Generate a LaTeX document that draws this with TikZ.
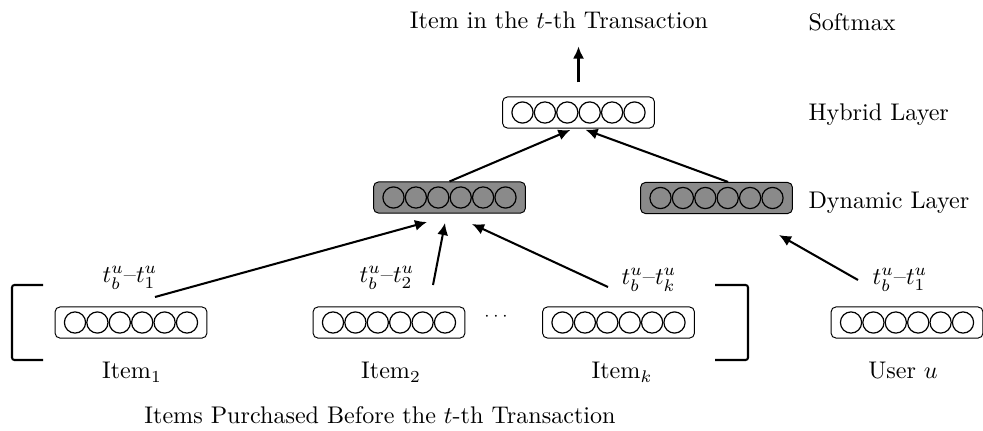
\documentclass[tikz,border=0pt]{standalone}
\usetikzlibrary{arrows.meta}

\definecolor{dyngray}{RGB}{138,138,138}

% six neurons inside an embedding box
\newcommand{\neurons}[1]{%
  \foreach \k in {0,...,5}
    \draw[cell] (#1) ++(\k*22.4-56,0) circle[radius=4.4pt];
}

\begin{document}
\begin{tikzpicture}[x=0.415pt, y=-0.415pt,
  vecbox/.style={rectangle, rounded corners=2pt, draw, line width=0.4pt,
                 minimum width=63pt, minimum height=12.9pt, inner sep=0pt},
  cell/.style={line width=0.5pt},
  arrow/.style={-{Latex[length=5pt, width=4.6pt]}, line width=0.85pt},
  bracket/.style={line width=0.85pt, rounded corners=1pt},
  layer/.style={anchor=west}
]
  \useasboundingbox (0,0) rectangle (983,430);

  % embedding vectors
  \node[vecbox] (it1) at (131,322.5) {};
  \node[vecbox] (it2) at (389,322.5) {};
  \node[vecbox] (itk) at (618.5,322.5) {};
  \node[vecbox] (usr) at (907,322.5) {};
  \node[vecbox, fill=dyngray] (dynL) at (449.5,197.5) {};
  \node[vecbox, fill=dyngray] (dynR) at (716.5,198) {};
  \node[vecbox] (hyb) at (578.5,112.5) {};
  \foreach \v in {it1,it2,itk,usr,dynL,dynR,hyb} \neurons{\v};

  \node (dots) at (496,317) {\scriptsize$\cdots$};

  % names below the vectors
  \node (n1) at (132,372) {Item$_1$};
  \node (n2) at (391,372) {Item$_2$};
  \node (nk) at (622,372) {Item$_k$};
  \node (nu) at (903,371) {User $u$};
  \node (cap) at (380,415) {Items Purchased Before the $t$-th Transaction};

  % time gaps
  \node (d1) at (130,278) {$t_b^u$--$t_1^u$};
  \node (d2) at (387,278) {$t_b^u$--$t_2^u$};
  \node (dk) at (649,280) {$t_b^u$--$t_k^u$};
  \node (du) at (900,280) {$t_b^u$--$t_1^u$};

  % layer names
  \node (out) at (559,20) {Item in the $t$-th Transaction};
  \node[layer] (lsm) at (800,22) {Softmax};
  \node[layer] (lhy) at (800,115) {Hybrid Layer};
  \node[layer] (ldy) at (800,203) {Dynamic Layer};

  % brackets round the purchased items
  \draw[bracket] (43,285) -- (12,285) -- (12,360) -- (43,360);
  \draw[bracket] (715,285) -- (748,285) -- (748,360) -- (715,360);

  % arrow ends
  \coordinate (t1) at (155,297);
  \coordinate (t2) at (433,285);
  \coordinate (tk) at (608,287);
  \coordinate (tu) at (858,280);
  \coordinate (h1) at (427,222);
  \coordinate (h2) at (445,223);
  \coordinate (hk) at (472,224);
  \coordinate (hu) at (779,235);

  \draw[arrow] (t1) -- (h1);
  \draw[arrow] (t2) -- (h2);
  \draw[arrow] (tk) -- (hk);
  \draw[arrow] (tu) -- (hu);

  \draw[arrow, shorten >=1.5pt] (dynL.north) -- ([xshift=-2pt]hyb.south);
  \draw[arrow, shorten >=1.5pt] ([xshift=4.8pt]dynR.north) -- ([xshift=1.5pt]hyb.south);
  \draw[arrow] (hyb.north) ++(0,-14) -- ++(0,-36);
\end{tikzpicture}
\end{document}
